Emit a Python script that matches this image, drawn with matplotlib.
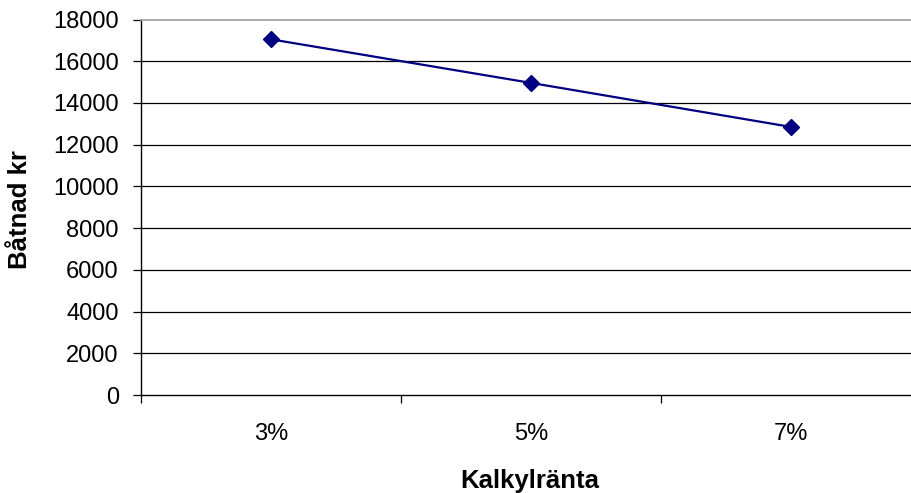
import matplotlib
matplotlib.use("Agg")
import matplotlib.pyplot as plt
from matplotlib.ticker import FixedLocator

plt.rcParams['font.family'] = ['Liberation Sans', 'DejaVu Sans']

categories = ["3%", "5%", "7%"]
values = [17050, 14960, 12850]
y_ticks = list(range(0, 18001, 2000))

fig = plt.figure(figsize=(9.12, 4.93), dpi=100)
ax = fig.add_axes([141 / 912, 1 - 395 / 493, 780 / 912, 375.5 / 493])

x = list(range(len(categories)))
ax.plot(x, values, color="#000080", linewidth=1.6, marker="D",
        markersize=8, markerfacecolor="#000080", markeredgecolor="#000080",
        zorder=3)

ax.set_xlim(-0.5, len(categories) - 0.5)
ax.set_ylim(0, 18000)

# horizontal gridlines
for v in y_ticks[1:-1]:
    ax.axhline(v, color="black", linewidth=0.9, zorder=1)

ax.set_yticks(y_ticks)
ax.set_yticklabels([str(v) for v in y_ticks])
ax.set_xticks(x)
ax.set_xticklabels(categories)
ax.xaxis.set_minor_locator(FixedLocator([i - 0.5 for i in range(len(categories) + 1)]))

ax.tick_params(axis="y", direction="out", length=6, width=0.9, pad=10,
               labelsize=17, colors="black")
ax.tick_params(axis="x", which="major", length=0, pad=20, labelsize=17)
ax.tick_params(axis="x", which="minor", direction="out", length=6, width=0.9)

for side in ("left", "bottom"):
    ax.spines[side].set_color("black")
    ax.spines[side].set_linewidth(1.0)
ax.spines["top"].set_color("#a0a0a0")
ax.spines["top"].set_linewidth(1.2)
ax.spines["right"].set_color("#a0a0a0")

fig.text(530 / 912, 1 - 488 / 493, "Kalkylränta", ha="center", va="baseline",
         fontsize=18.5, fontweight="bold")
fig.text(27 / 912, 1 - 210 / 493, "Båtnad kr", ha="center", va="baseline",
         rotation=90, rotation_mode="anchor", fontsize=18.5, fontweight="bold")

fig.savefig("out.png", dpi=100, facecolor="white")
